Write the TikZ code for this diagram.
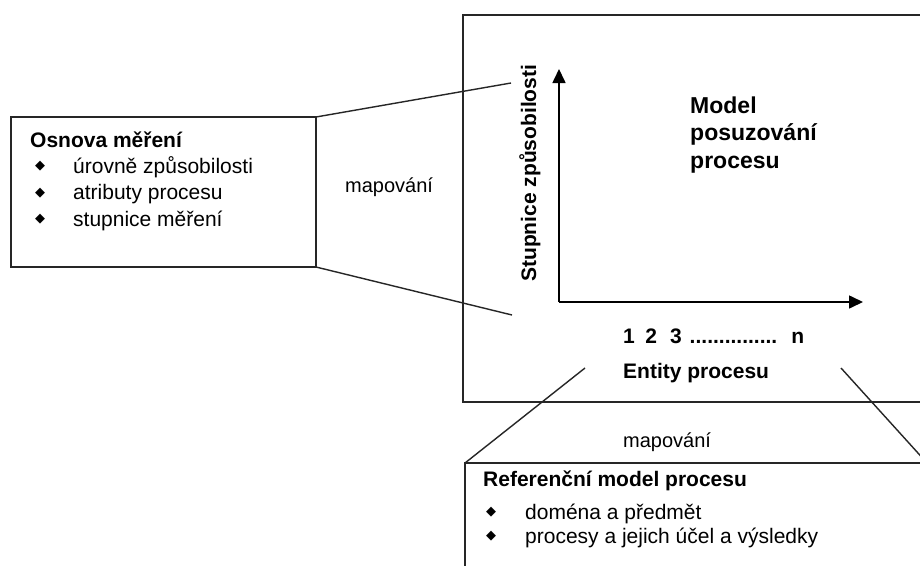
\documentclass[tikz,border=0pt]{standalone}
\usepackage{fontspec}
\setmainfont{Liberation Sans}
\newfontfamily\symfont{DejaVu Sans}
\usetikzlibrary{arrows.meta}
\begin{document}
\begin{tikzpicture}[x=1pt,y=-1pt,
  frame/.style={draw=black!85, line width=2pt},
  link/.style={draw=black!85, line width=1.4pt},
  axis/.style={draw=black, line width=1.6pt, -{Triangle[length=14pt,width=13pt]}},
  txt/.style={inner sep=0pt, anchor=base west, font=\fontsize{20}{22}\selectfont},
  item/.style={txt, font=\fontsize{21}{22}\selectfont},
  head/.style={txt, font=\fontsize{21}{22}\selectfont\bfseries},
  big/.style={txt, font=\fontsize{23}{24}\selectfont\bfseries},
  bullet/.style={inner sep=0pt, anchor=center, font=\symfont\fontsize{13}{14}\selectfont}]
\useasboundingbox (0,0) rectangle (920,565);
\clip (0,0) rectangle (920,565);
\fill[white] (0,0) rectangle (920,565);

% boxes
\draw[frame] (11,117) rectangle (316,267);
\draw[frame] (463,15) rectangle (940,402);
\draw[frame] (465,463) rectangle (940,600);
\coordinate (lbtr) at (316,117);
\coordinate (lbbr) at (316,267);
\coordinate (bbtl) at (465,463);
\coordinate (bbtr) at (927,463);

% mapping lines
\coordinate (ua) at (511,83);
\coordinate (la) at (512,315);
\coordinate (ba) at (585,368);
\coordinate (bb) at (841,368);
\draw[link] (lbtr) -- (ua);
\draw[link] (lbbr) -- (la);
\draw[link] (bbtl) -- (ba);
\draw[link] (bbtr) -- (bb);

% axes
\coordinate (o) at (559,302);
\coordinate (ytop) at (559,69);
\coordinate (xend) at (863,302);
\draw[axis] (o) -- (ytop);
\draw[axis] (o) -- (xend);

% left box text
\node[head] (lh) at (30,147) {Osnova měření};
\foreach \y/\t [count=\i] in {173/úrovně způsobilosti,199.5/atributy procesu,226/stupnice měření}{
  \node[bullet] (lb\i) at (40,\y-6.5) {◆};
  \node[item] (li\i) at (73,\y) {\t};
}
\node[txt] (map1) at (345,192) {mapování};

% assessment model text
\node[head, rotate=90] (yl) at (536,282) {Stupnice způsobilosti};
\node[big] (m1) at (690,113) {Model};
\node[big] (m2) at (690,140) {posuzování};
\node[big] (m3) at (690,168) {procesu};
\node[head] (nums) at (623,343) {1\hspace{10.5pt}2\hspace{13pt}3\hspace{8pt}...............\hspace{14pt}n};
\node[head] (ent) at (623,378) {Entity procesu};

% bottom text
\node[txt] (map2) at (623,447) {mapování};
\node[head] (rh) at (483,486) {Referenční model procesu};
\foreach \y/\t [count=\i] in {519/doména a předmět,543/procesy a jejich účel a výsledky}{
  \node[bullet] (bb\i) at (491,\y-6.5) {◆};
  \node[item] (bi\i) at (525,\y) {\t};
}
\end{tikzpicture}
\end{document}
